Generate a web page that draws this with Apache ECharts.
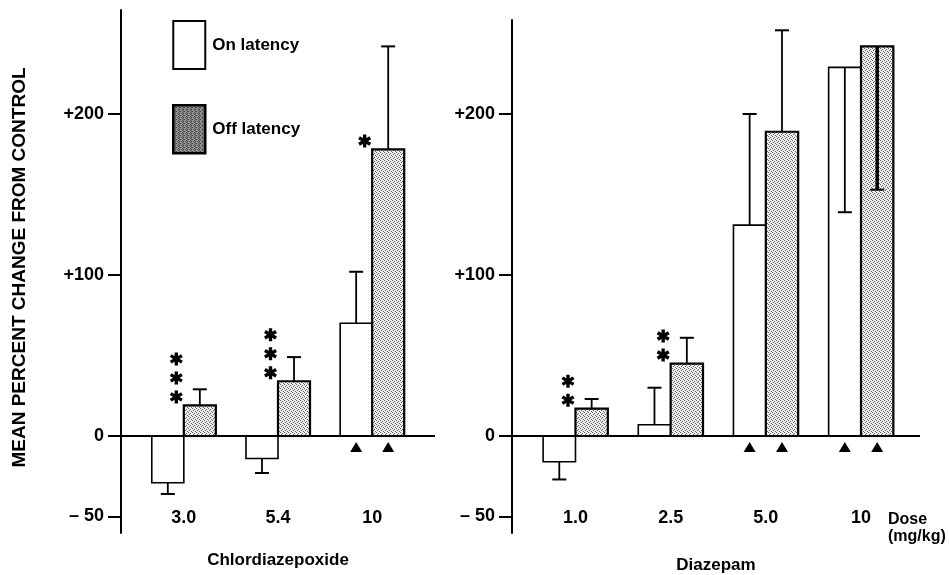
<!DOCTYPE html>
<html><head><meta charset="utf-8">
<script src="https://cdn.jsdelivr.net/npm/echarts@6/dist/echarts.min.js"></script>
<style>html,body{margin:0;padding:0;background:#fff}#c{width:949px;height:575px}</style>
</head><body><div id="c"></div>
<script>
// ---- data ----
const leftCats = ['3.0', '5.4', '10'];
const leftOn = [-29, -14, 70];
const leftOnErr = [-36, -23, 102];
const leftOff = [19, 34, 178];
const leftOffErr = [29, 49, 242];
const leftStars = [3, 3, 1];
const leftMarks = [0, 0, 1];

const rightCats = ['1.0', '2.5', '5.0', '10'];
const rightOn = [-16, 7, 131, 229];
const rightOnErr = [-27, 30, 200, 139];
const rightOff = [17, 45, 189, 242];
const rightOffErr = [23, 61, 252, 153];
const rightStars = [2, 2, 0, 0];
const rightMarks = [0, 0, 1, 1];

const yTicks = [-50, 0, 100, 200];

// ---- styles ----
const FONT = '"Liberation Sans", Arial, Helvetica, sans-serif';
function stipple(base, dot, pts, n) {
  const c = document.createElement('canvas'); c.width = c.height = n;
  const g = c.getContext('2d'); g.fillStyle = base; g.fillRect(0, 0, n, n);
  g.fillStyle = dot; pts.forEach(p => g.fillRect(p[0], p[1], 1, 1));
  return c;
}
const barPat = { image: stipple('#ececec', '#666666', [[0,0],[2,1],[1,2],[3,3]], 4), repeat: 'repeat' };
const legPat = { image: stipple('#a8a8a8', '#222222', [[0,0],[2,0],[1,1],[3,2],[1,3],[2,2]], 4), repeat: 'repeat' };
const BAR_U = 0.34;
const ASTER = 'M-2.6,-10L2.6,-10L2.6,10L-2.6,10ZM7.36,-7.25L9.96,-2.75L-7.36,7.25L-9.96,2.75ZM9.96,2.75L7.36,7.25L-9.96,-2.75L-7.36,-7.25Z';

function barRender(side, fill, lw) {
  return function (params, api) {
    const x = api.value(0), v = api.value(1), e = api.value(2);
    const bw = api.size([BAR_U, 0])[0];
    const p0 = api.coord([x, 0]), p1 = api.coord([x, v]), pe = api.coord([x, e]);
    const left = side < 0 ? p0[0] - bw : p0[0];
    const cx = left + bw / 2;
    const inside = (v > 0 && e < v) || (v < 0 && e > v);
    const errLw = inside && side > 0 ? 3.5 : 1.8;
    return { type: 'group', children: [
      { type: 'rect', shape: { x: left, y: Math.min(p0[1], p1[1]), width: bw, height: Math.abs(p1[1] - p0[1]) },
        style: { fill: fill, stroke: '#000', lineWidth: lw } },
      { type: 'line', shape: { x1: cx, y1: p1[1], x2: cx, y2: pe[1] }, style: { stroke: '#000', lineWidth: errLw } },
      { type: 'line', shape: { x1: cx - 7, y1: pe[1], x2: cx + 7, y2: pe[1] }, style: { stroke: '#000', lineWidth: 2 } }
    ]};
  };
}
function markRender(params, api) {
  const x = api.value(0), off = api.value(1), nStars = api.value(2), tri = api.value(3);
  const bw = api.size([BAR_U, 0])[0];
  const p0 = api.coord([x, 0]), p1 = api.coord([x, off]);
  const ch = [];
  for (let k = 0; k < nStars; k++) {
    ch.push({ type: 'path', shape: { pathData: ASTER, x: p0[0] - 14, y: p1[1] - 15 - k * 19, width: 13, height: 13, layout: 'center' },
      style: { fill: '#000' } });
  }
  if (tri) {
    [p0[0] - bw / 2, p0[0] + bw / 2].forEach(cx => {
      ch.push({ type: 'polygon', shape: { points: [[cx, p0[1] + 6], [cx + 6, p0[1] + 16], [cx - 6, p0[1] + 16]] },
        style: { fill: '#000' } });
    });
  }
  return { type: 'group', children: ch };
}

const zeroLine = { silent: true, symbol: 'none', label: { show: false },
  lineStyle: { color: '#000', width: 2, type: 'solid' }, data: [{ yAxis: 0 }] };

function yAxisCfg(grid, max, withName) {
  const a = {
    type: 'value', gridIndex: grid, min: -60.25, max: max,
    axisLine: { show: true, onZero: false, lineStyle: { color: '#000', width: 2 } },
    axisTick: { show: true, customValues: yTicks, length: 13, lineStyle: { color: '#000', width: 2 } },
    axisLabel: { customValues: yTicks, margin: 17, color: '#000', fontFamily: FONT, fontWeight: 'bold', fontSize: 18,
      formatter: v => v > 0 ? '+' + v : (v < 0 ? '\u2013 ' + Math.abs(v) : '0') },
    splitLine: { show: false }
  };
  if (withName) {
    a.name = 'MEAN PERCENT CHANGE FROM CONTROL';
    a.nameLocation = 'middle'; a.nameGap = 92; a.nameRotate = 90;
    a.nameTextStyle = { color: '#000', fontFamily: FONT, fontWeight: 'bold', fontSize: 19, padding: [0, 0, 0, 8] };
  }
  return a;
}
function xAxisCfg(grid, max, cats, name, gap) {
  return {
    type: 'value', gridIndex: grid, min: 0.333, max: max,
    axisLine: { show: false }, axisTick: { show: false }, splitLine: { show: false },
    axisLabel: { customValues: cats.map((c, i) => i + 1), formatter: v => cats[Math.round(v) - 1],
      inside: true, margin: 6, color: '#000', fontFamily: FONT, fontWeight: 'bold', fontSize: 18 },
    name: name, nameLocation: 'middle', nameGap: gap,
    nameTextStyle: { color: '#000', fontFamily: FONT, fontWeight: 'bold', fontSize: 17 }
  };
}
function panelSeries(ax, on, onErr, off, offErr, stars, marks) {
  return [
    { type: 'custom', name: 'On latency', xAxisIndex: ax, yAxisIndex: ax, silent: true,
      itemStyle: { color: '#fff', borderColor: '#000' },
      data: on.map((v, i) => [i + 1, v, onErr[i]]), encode: { x: 0, y: 1 },
      renderItem: barRender(-1, '#fff', 1.6), markLine: zeroLine },
    { type: 'custom', name: 'Off latency', xAxisIndex: ax, yAxisIndex: ax, silent: true,
      itemStyle: { color: '#999', borderColor: '#000' },
      data: off.map((v, i) => [i + 1, v, offErr[i]]), encode: { x: 0, y: 1 },
      renderItem: barRender(1, barPat, 2.2) },
    { type: 'custom', name: 'significance', xAxisIndex: ax, yAxisIndex: ax, silent: true,
      data: off.map((v, i) => [i + 1, v, stars[i], marks[i]]), encode: { x: 0, y: 1 },
      renderItem: markRender }
  ];
}

const chart = echarts.init(document.getElementById('c'), null, { renderer: 'canvas' });
chart.setOption({
  animation: false,
  backgroundColor: '#fff',
  grid: [
    { left: 121, top: 10, width: 314, height: 523, outerBoundsMode: 'none', containLabel: false },
    { left: 512, top: 20, width: 408, height: 513, outerBoundsMode: 'none', containLabel: false }
  ],
  xAxis: [
    xAxisCfg(0, 3.667, leftCats, 'Chlordiazepoxide', 19),
    xAxisCfg(1, 4.62, rightCats, 'Diazepam', 24)
  ],
  yAxis: [
    yAxisCfg(0, 264.6, true),
    yAxisCfg(1, 258.4, false)
  ],
  legend: {
    orient: 'vertical', left: 167, top: 15, itemWidth: 32, itemHeight: 48, itemGap: 34, selectedMode: false,
    data: [
      { name: 'On latency', icon: 'rect', itemStyle: { color: '#fff', borderColor: '#000', borderWidth: 2 } },
      { name: 'Off latency', icon: 'rect', itemStyle: { color: legPat, borderColor: '#000', borderWidth: 2.5 } }
    ],
    textStyle: { color: '#000', fontFamily: FONT, fontWeight: 'bold', fontSize: 17, padding: [0, 0, 0, 2] }
  },
  graphic: [
    { type: 'text', left: 888, top: 511,
      style: { text: 'Dose\n(mg/kg)', fill: '#000', fontFamily: FONT, fontWeight: 'bold', fontSize: 16, lineHeight: 17 } }
  ],
  series: [].concat(
    panelSeries(0, leftOn, leftOnErr, leftOff, leftOffErr, leftStars, leftMarks),
    panelSeries(1, rightOn, rightOnErr, rightOff, rightOffErr, rightStars, rightMarks)
  )
});
</script>
</body></html>
